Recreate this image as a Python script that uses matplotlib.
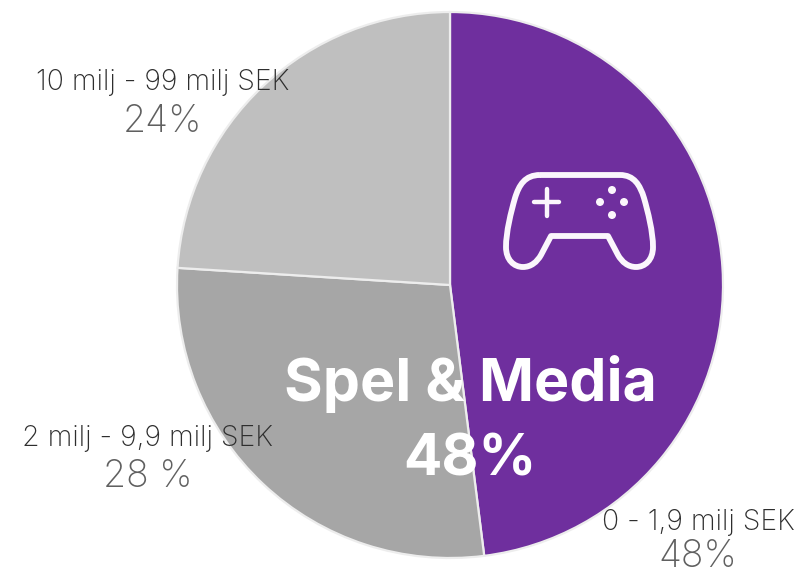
import matplotlib.pyplot as plt
from matplotlib.path import Path
from matplotlib.patches import PathPatch, Circle

categories = ["0 - 1,9 milj SEK", "2 milj - 9,9 milj SEK", "10 milj - 99 milj SEK"]
values = [48, 28, 24]
value_labels = ["48%", "28 %", "24%"]
colors = ["#6F2F9E", "#A6A6A6", "#BFBFBF"]

W = 800
H = 575
CX = 450
CY = 285
R = 273


def draw_icon(ax):
	# game controller, in pixel coordinates
	verts = [
		(540, 175),
		(620, 175),
		(634, 175), (640, 185), (644, 198),
		(648, 212), (653, 232), (653, 247),
		(653, 260), (645, 267), (636, 267),
		(628, 267), (622, 262), (618, 255),
		(608, 236),
		(551, 236),
		(541, 255),
		(537, 262), (531, 267), (523, 267),
		(514, 267), (506, 260), (506, 247),
		(506, 232), (511, 212), (515, 198),
		(519, 185), (525, 175), (540, 175),
	]
	codes = [Path.MOVETO, Path.LINETO]
	codes += [Path.CURVE4] * 12
	codes += [Path.LINETO, Path.LINETO, Path.LINETO]
	codes += [Path.CURVE4] * 12
	ax.add_patch(PathPatch(Path(verts, codes), fill=False, ec="#FBF6FC", lw=4.2, joinstyle="round"))
	ax.plot([534, 559], [202, 202], color="#FBF6FC", lw=3.2, solid_capstyle="round")
	ax.plot([547, 547], [189, 216], color="#FBF6FC", lw=3.2, solid_capstyle="round")
	for x, y in [(612, 190), (600, 202), (624, 202), (612, 215)]:
		ax.add_patch(Circle((x, y), 4, fc="#FBF6FC", ec="none"))


def main():
	fig = plt.figure(figsize=(W / 100, H / 100), dpi=100, facecolor="white")

	ax = fig.add_axes([(CX - R) / W, (H - CY - R) / H, 2 * R / W, 2 * R / H])
	ax.pie(values, colors=colors, startangle=90, counterclock=False, radius=1,
		wedgeprops={"edgecolor": "#EDEDED", "linewidth": 1.6}, frame=False)
	ax.set_xlim(-1, 1)
	ax.set_ylim(-1, 1)

	over = fig.add_axes([0, 0, 1, 1])
	over.set_xlim(0, W)
	over.set_ylim(H, 0)
	over.axis("off")
	over.patch.set_alpha(0)

	draw_icon(over)

	label_pos = [(698, 522), (148, 438), (163, 83)]
	value_pos = [(698, 557), (148, 477), (163, 122)]
	for i in range(len(categories)):
		over.text(label_pos[i][0], label_pos[i][1], categories[i], ha="center", va="center",
			fontsize=20.5, color="#2E2E2E", family="Inter", fontweight="light")
		over.text(value_pos[i][0], value_pos[i][1], value_labels[i], ha="center", va="center",
			fontsize=27, color="#606060", family="Inter", fontweight="light")

	over.text(470, 384, "Spel & Media", ha="center", va="center", fontsize=42.5,
		fontweight="bold", color="white", family="Inter")
	over.text(470, 460, "48%", ha="center", va="center", fontsize=41,
		fontweight="bold", color="white", family="Inter")

	fig.savefig("out.png", dpi=100)


if __name__ == "__main__":
	main()
